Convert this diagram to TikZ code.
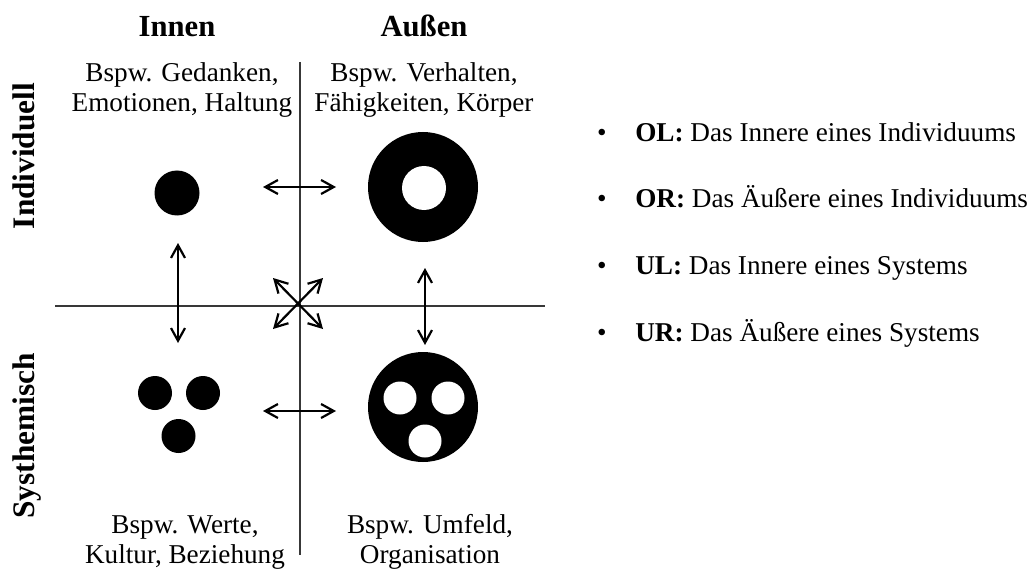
\documentclass[tikz,border=0pt]{standalone}
\usepackage{fontspec}
\setmainfont{Liberation Serif}
\usetikzlibrary{arrows.meta}
\begin{document}
\begin{tikzpicture}[x=0.75pt,y=-0.75pt,
  axis/.style={draw=black!78, line width=1.4pt},
  link/.style={line width=1.65pt, line join=round,
    {Straight Barb[length=9.5pt,width=10.5pt]}-{Straight Barb[length=9.5pt,width=10.5pt]}},
  head/.style={font=\fontsize{23}{27}\selectfont\bfseries, anchor=base, inner sep=0},
  side/.style={font=\fontsize{23.5}{27}\selectfont\bfseries, anchor=base, rotate=90, inner sep=0},
  note/.style={font=\fontsize{20.4}{22.5}\selectfont, align=center, anchor=base, inner sep=0},
  item/.style={font=\fontsize{20.4}{22.5}\selectfont, anchor=base west, inner sep=0},
  bul/.style={font=\fontsize{20.4}{22.5}\selectfont, anchor=base, inner sep=0},
  dot/.style={circle, fill=black, inner sep=0, minimum size=#1},
  hole/.style={circle, fill=white, inner sep=0, minimum size=#1},
]
\useasboundingbox (0,0) rectangle (1035,574);

% quadrant axes
\coordinate (vtop) at (300,62);
\coordinate (vbot) at (300,555);
\coordinate (hleft) at (55,306);
\coordinate (hright) at (545,306);
\draw[axis] (vtop) -- (vbot);
\draw[axis] (hleft) -- (hright);

% column and row headings
\node[head] (innen) at (177,37) {Innen};
\node[head] (aussen) at (424,37) {Außen};
\node[side] (indiv) at (34,156) {Individuell};
\node[side] (syst) at (34,436) {Systhemisch};

% quadrant examples (anchored on the last line's baseline)
\node[note] (ol) at (182,112) {Bspw. Gedanken,\\Emotionen, Haltung};
\node[note] (or) at (424,112) {Bspw. Verhalten,\\Fähigkeiten, Körper};
\node[note] (ul) at (185,563) {Bspw. Werte,\\Kultur, Beziehung};
\node[note] (ur) at (430,563) {Bspw. Umfeld,\\Organisation};

% symbols: individual inside / outside
\node[dot=33.75pt] (olsym) at (177,193) {};
\node[dot=82.5pt] (orsym) at (423,187) {};
\node[hole=33pt] (orhole) at (424,188) {};

% symbols: system inside / outside
\node[dot=25.5pt] (uldotA) at (155,393) {};
\node[dot=25.5pt] (uldotB) at (203,393) {};
\node[dot=25.5pt] (uldotC) at (178.5,436) {};
\node[dot=82.5pt] (ursym) at (423,407) {};
\node[hole=24.75pt] (urholeA) at (400,398) {};
\node[hole=24.75pt] (urholeB) at (448,398) {};
\node[hole=24.75pt] (urholeC) at (425,441) {};

% arrow end points
\coordinate (topL) at (263,187);
\coordinate (topR) at (336,187);
\coordinate (botL) at (263,411);
\coordinate (botR) at (336,411);
\coordinate (leftT) at (178,243);
\coordinate (leftB) at (178,343);
\coordinate (rightT) at (425,268);
\coordinate (rightB) at (425,345);
\coordinate (xNW) at (273,278);
\coordinate (xNE) at (323,278);
\coordinate (xSW) at (273,329);
\coordinate (xSE) at (323,329);

\draw[link] (topL) -- (topR);
\draw[link] (botL) -- (botR);
\draw[link] (leftT) -- (leftB);
\draw[link] (rightT) -- (rightB);
\draw[link] (xNW) -- (xSE);
\draw[link] (xNE) -- (xSW);

% legend
\node[bul] (b1) at (602,142) {•};
\node[bul] (b2) at (602,208) {•};
\node[bul] (b3) at (602,274) {•};
\node[bul] (b4) at (602,341) {•};
\node[item] (l1) at (635,142) {\textbf{OL:} Das Innere eines Individuums};
\node[item] (l2) at (635,208) {\textbf{OR:} Das Äußere eines Individuums};
\node[item] (l3) at (635,274) {\textbf{UL:} Das Innere eines Systems};
\node[item] (l4) at (635,341) {\textbf{UR:} Das Äußere eines Systems};
\end{tikzpicture}
\end{document}
